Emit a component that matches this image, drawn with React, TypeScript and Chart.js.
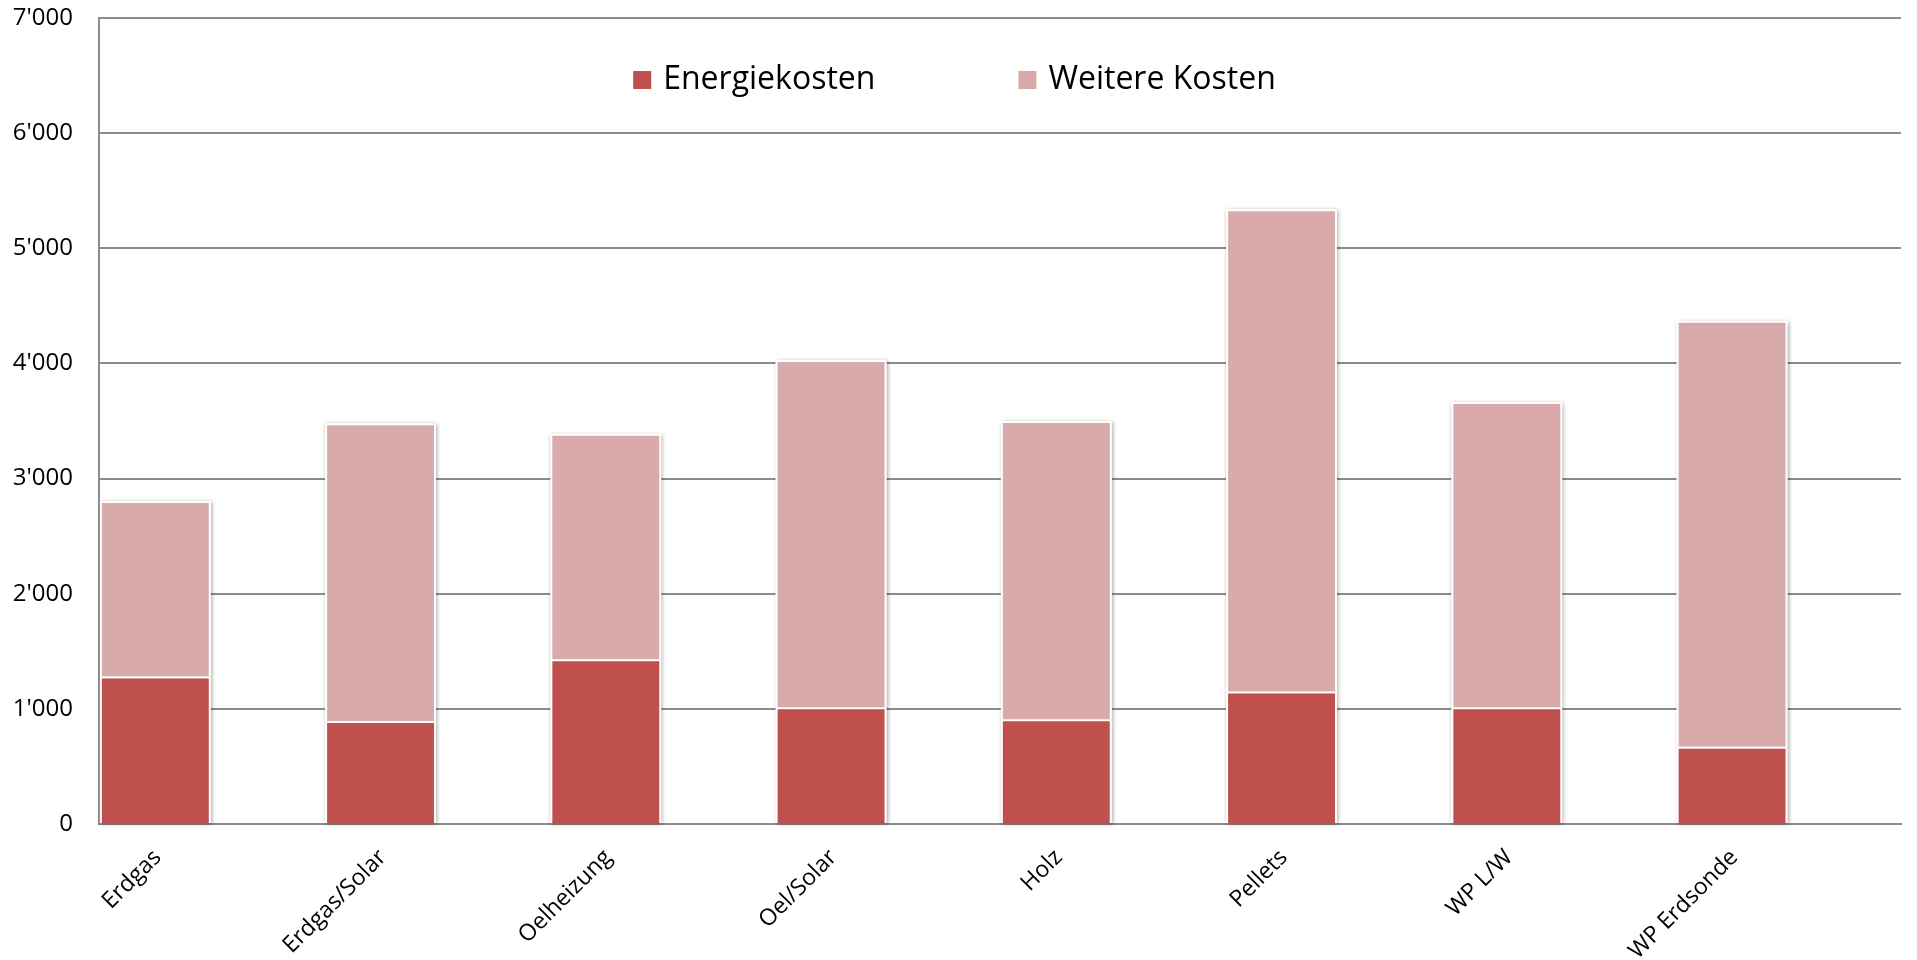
import React, { useEffect, useRef } from "react";
import { Chart, registerables } from "chart.js";

Chart.register(...registerables);

const categories = [
  "Erdgas",
  "Erdgas/Solar",
  "Oelheizung",
  "Oel/Solar",
  "Holz",
  "Pellets",
  "WP L/W",
  "WP Erdsonde",
];
const energiekosten = [1280, 895, 1430, 1015, 910, 1150, 1015, 670];
const weitereKosten = [1525, 2585, 1960, 3015, 2590, 4190, 2650, 3700];
const yTicks = [0, 1000, 2000, 3000, 4000, 5000, 6000, 7000];

const RED = "#C0504D";
const PINK = "#D9AAAA";
const GRID = "#8C8C8C";
const FONT = "'Open Sans', sans-serif";

const fmt = (v: number) => String(v).replace(/\B(?=(\d{3})+(?!\d))/g, "'");

const shadowPlugin = {
  id: "barShadow",
  beforeDatasetsDraw(chart: any) {
    const ctx = chart.ctx;
    ctx.save();
    ctx.shadowColor = "rgba(0,0,0,0.35)";
    ctx.shadowBlur = 4;
    ctx.shadowOffsetX = 1;
    ctx.shadowOffsetY = 1;
    ctx.fillStyle = "#ffffff";
    chart.data.datasets.forEach((ds: any, i: number) => {
      if (!ds.label) return;
      const meta = chart.getDatasetMeta(i);
      meta.data.forEach((bar: any) => {
        const p = bar.getProps(["x", "y", "base", "width"], true);
        if (p.y == null || isNaN(p.y)) return;
        const top = Math.min(p.y, p.base);
        const h = Math.abs(p.base - p.y);
        ctx.fillRect(p.x - p.width / 2, top, p.width, h);
      });
    });
    ctx.restore();
  },
};

const legendPlugin = {
  id: "innerLegend",
  afterDraw(chart: any) {
    const ctx = chart.ctx;
    const items = chart.data.datasets.filter((d: any) => d.label);
    const fontSize = 32;
    const box = 18;
    const boxGap = 12;
    const itemGap = 143;
    ctx.save();
    ctx.font = `${fontSize}px ${FONT}`;
    const widths = items.map((d: any) => ctx.measureText(d.label).width);
    const total =
      widths.reduce((a: number, b: number) => a + b, 0) +
      items.length * (box + boxGap) +
      (items.length - 1) * itemGap;
    let x = chart.width / 2 - total / 2 - 4;
    const cy = chart.chartArea.top + 62;
    items.forEach((d: any, i: number) => {
      ctx.fillStyle = d.backgroundColor;
      ctx.fillRect(x, cy - box / 2, box, box);
      x += box + boxGap;
      ctx.fillStyle = "#000";
      ctx.textBaseline = "middle";
      ctx.textAlign = "left";
      ctx.fillText(d.label, x, cy);
      x += widths[i] + itemGap;
    });
    ctx.restore();
  },
};

export default function App() {
  const ref = useRef<HTMLCanvasElement | null>(null);

  useEffect(() => {
    if (!ref.current) return;
    const chart = new Chart(ref.current, {
      type: "bar",
      data: {
        labels: categories,
        datasets: [
          {
            label: "Energiekosten",
            data: energiekosten,
            backgroundColor: RED,
            borderColor: "#ffffff",
            borderWidth: 2,
            stack: "kosten",
          },
          {
            label: "Weitere Kosten",
            data: weitereKosten,
            backgroundColor: PINK,
            borderColor: "#ffffff",
            borderWidth: 2,
            stack: "kosten",
          },
          {
            label: "",
            data: categories.map(() => null),
            backgroundColor: "transparent",
            stack: "leer",
          },
        ],
      },
      options: {
        animation: false,
        responsive: true,
        maintainAspectRatio: false,
        datasets: {
          bar: {
            barPercentage: 0.985,
            categoryPercentage: 1,
          },
        },
        layout: { autoPadding: false, padding: { top: 18, right: 16, left: 0, bottom: 0 } },
        plugins: {
          legend: { display: false },
          tooltip: { enabled: false },
        },
        scales: {
          x: {
            stacked: true,
            grid: { display: false, drawTicks: false },
            border: { display: true, color: GRID, width: 2 },
            ticks: {
              maxRotation: 45,
              minRotation: 45,
              autoSkip: false,
              labelOffset: -54,
              padding: 20,
              color: "#000",
              font: { family: FONT, size: 23 },
            },
            afterFit(scale: any) {
              scale.height = 136;
              scale.paddingLeft = 0;
              scale.paddingRight = 0;
            },
          },
          y: {
            stacked: true,
            min: 0,
            max: 7000,
            afterBuildTicks(scale: any) {
              scale.ticks = yTicks.map((v) => ({ value: v }));
            },
            grid: { color: GRID, lineWidth: 2, drawTicks: false },
            border: { display: true, color: GRID, width: 2 },
            ticks: {
              padding: 26,
              color: "#000",
              font: { family: FONT, size: 24 },
              callback: (v: any) => fmt(Number(v)),
            },
            afterFit(scale: any) {
              scale.width = 99;
              scale.paddingTop = 0;
              scale.paddingBottom = 0;
            },
          },
        },
      },
      plugins: [shadowPlugin, legendPlugin],
    });
    return () => chart.destroy();
  }, []);

  return (
    <div style={{ position: "fixed", left: 0, top: 0, width: "100vw", height: "100vh", background: "#fff" }}>
      <canvas ref={ref} />
    </div>
  );
}
